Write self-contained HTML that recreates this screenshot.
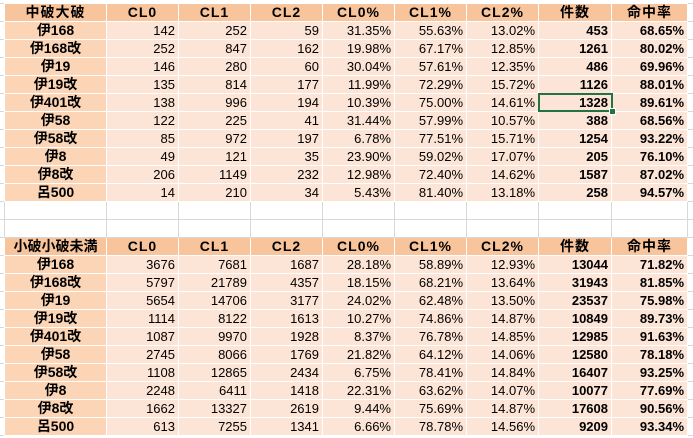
<!DOCTYPE html>
<html><head><meta charset="utf-8"><style>
body{margin:0;width:693px;height:438px;overflow:hidden;background:#fff;position:relative;
font-family:"Liberation Sans","Noto Sans CJK JP",sans-serif;font-size:13px;color:#000;
background-image:linear-gradient(#d8d8d8 1px,transparent 1px);background-size:100% 18px;background-position:0 3px}
table{position:absolute;left:4px;top:3px;border-collapse:collapse;table-layout:fixed;width:683px}
td{height:17px;padding:0 3px 0 0;border:1px solid #fff;text-align:right;background:#fce4d6;white-space:nowrap;line-height:17px;overflow:hidden}
td:first-child{text-align:center;padding:0;background:#fbd5b6;font-weight:bold;font-size:14px}
td:nth-child(8),td:nth-child(9){font-weight:bold}
tr.h td{background:#f8c49c;font-weight:bold;text-align:center;padding:0;font-size:14px;letter-spacing:1px}
tr.b td{background:#fff;border:1px solid #d8d8d8}
.sel{position:absolute;left:538px;top:93px;width:71px;height:15px;border:2px solid #217346}
.sel:after{content:"";position:absolute;right:-5px;bottom:-5px;width:5px;height:5px;background:#217346;border:1px solid #fff}
</style></head><body>
<table>
<colgroup><col style="width:102px"><col style="width:72px"><col style="width:72px"><col style="width:72px"><col style="width:72px"><col style="width:72px"><col style="width:72px"><col style="width:73px"><col style="width:76px"></colgroup>
<tr class="h"><td>中破大破</td><td>CL0</td><td>CL1</td><td>CL2</td><td>CL0%</td><td>CL1%</td><td>CL2%</td><td>件数</td><td>命中率</td></tr>
<tr><td>伊168</td><td>142</td><td>252</td><td>59</td><td>31.35%</td><td>55.63%</td><td>13.02%</td><td>453</td><td>68.65%</td></tr>
<tr><td>伊168改</td><td>252</td><td>847</td><td>162</td><td>19.98%</td><td>67.17%</td><td>12.85%</td><td>1261</td><td>80.02%</td></tr>
<tr><td>伊19</td><td>146</td><td>280</td><td>60</td><td>30.04%</td><td>57.61%</td><td>12.35%</td><td>486</td><td>69.96%</td></tr>
<tr><td>伊19改</td><td>135</td><td>814</td><td>177</td><td>11.99%</td><td>72.29%</td><td>15.72%</td><td>1126</td><td>88.01%</td></tr>
<tr><td>伊401改</td><td>138</td><td>996</td><td>194</td><td>10.39%</td><td>75.00%</td><td>14.61%</td><td>1328</td><td>89.61%</td></tr>
<tr><td>伊58</td><td>122</td><td>225</td><td>41</td><td>31.44%</td><td>57.99%</td><td>10.57%</td><td>388</td><td>68.56%</td></tr>
<tr><td>伊58改</td><td>85</td><td>972</td><td>197</td><td>6.78%</td><td>77.51%</td><td>15.71%</td><td>1254</td><td>93.22%</td></tr>
<tr><td>伊8</td><td>49</td><td>121</td><td>35</td><td>23.90%</td><td>59.02%</td><td>17.07%</td><td>205</td><td>76.10%</td></tr>
<tr><td>伊8改</td><td>206</td><td>1149</td><td>232</td><td>12.98%</td><td>72.40%</td><td>14.62%</td><td>1587</td><td>87.02%</td></tr>
<tr><td>呂500</td><td>14</td><td>210</td><td>34</td><td>5.43%</td><td>81.40%</td><td>13.18%</td><td>258</td><td>94.57%</td></tr>
<tr class="b"><td></td><td></td><td></td><td></td><td></td><td></td><td></td><td></td><td></td></tr>
<tr class="b"><td></td><td></td><td></td><td></td><td></td><td></td><td></td><td></td><td></td></tr>
<tr class="h"><td style="letter-spacing:0">小破小破未満</td><td>CL0</td><td>CL1</td><td>CL2</td><td>CL0%</td><td>CL1%</td><td>CL2%</td><td>件数</td><td>命中率</td></tr>
<tr><td>伊168</td><td>3676</td><td>7681</td><td>1687</td><td>28.18%</td><td>58.89%</td><td>12.93%</td><td>13044</td><td>71.82%</td></tr>
<tr><td>伊168改</td><td>5797</td><td>21789</td><td>4357</td><td>18.15%</td><td>68.21%</td><td>13.64%</td><td>31943</td><td>81.85%</td></tr>
<tr><td>伊19</td><td>5654</td><td>14706</td><td>3177</td><td>24.02%</td><td>62.48%</td><td>13.50%</td><td>23537</td><td>75.98%</td></tr>
<tr><td>伊19改</td><td>1114</td><td>8122</td><td>1613</td><td>10.27%</td><td>74.86%</td><td>14.87%</td><td>10849</td><td>89.73%</td></tr>
<tr><td>伊401改</td><td>1087</td><td>9970</td><td>1928</td><td>8.37%</td><td>76.78%</td><td>14.85%</td><td>12985</td><td>91.63%</td></tr>
<tr><td>伊58</td><td>2745</td><td>8066</td><td>1769</td><td>21.82%</td><td>64.12%</td><td>14.06%</td><td>12580</td><td>78.18%</td></tr>
<tr><td>伊58改</td><td>1108</td><td>12865</td><td>2434</td><td>6.75%</td><td>78.41%</td><td>14.84%</td><td>16407</td><td>93.25%</td></tr>
<tr><td>伊8</td><td>2248</td><td>6411</td><td>1418</td><td>22.31%</td><td>63.62%</td><td>14.07%</td><td>10077</td><td>77.69%</td></tr>
<tr><td>伊8改</td><td>1662</td><td>13327</td><td>2619</td><td>9.44%</td><td>75.69%</td><td>14.87%</td><td>17608</td><td>90.56%</td></tr>
<tr><td>呂500</td><td>613</td><td>7255</td><td>1341</td><td>6.66%</td><td>78.78%</td><td>14.56%</td><td>9209</td><td>93.34%</td></tr>
</table>
<div class="sel"></div>
</body></html>
